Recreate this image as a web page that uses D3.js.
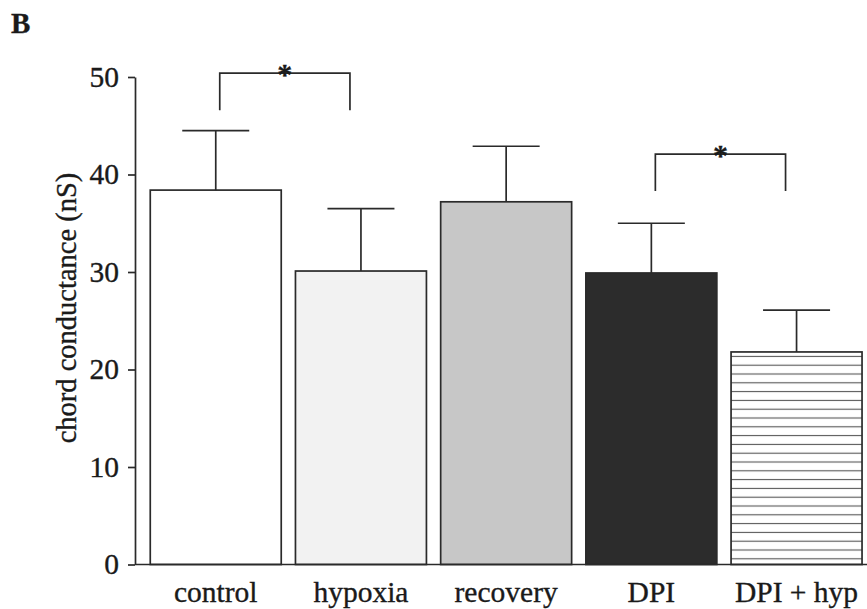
<!DOCTYPE html>
<html>
<head>
<meta charset="utf-8">
<script src="https://cdn.jsdelivr.net/npm/d3@7/dist/d3.min.js"></script>
<style>
  html, body { margin: 0; padding: 0; background: #fff; }
  svg { display: block; }
  text { font-family: "Liberation Serif", "Times New Roman", serif; fill: #1a1a1a; stroke: #1a1a1a; stroke-width: 0.35px; }
</style>
</head>
<body>
<svg id="chart" width="867" height="609"></svg>
<script>
// Chord conductance per condition (mean and SEM, nS)
const categories = ["control", "hypoxia", "recovery", "DPI", "DPI + hyp"];
const means = [38.4, 30.1, 37.2, 29.9, 21.8];
const sems = [6.1, 6.4, 5.7, 5.1, 4.3];
const fills = ["#ffffff", "#f2f2f2", "#c7c7c7", "#2c2c2c", "url(#hlines)"];
const yTicks = [0, 10, 20, 30, 40, 50];

// Significance brackets: pair of conditions, bracket height and leg end (nS)
const pairFrom = ["control", "DPI"];
const pairTo = ["hypoxia", "DPI + hyp"];
const pairTop = [50.4, 42.1];
const pairLegEnd = [46.6, 38.3];
const pairMark = ["*", "*"];

const svg = d3.select("#chart");
const ink = "#2a2a2a";
const fontSize = 29.5;

// Horizontal line fill for the last bar
const defs = svg.append("defs");
const pat = defs.append("pattern")
  .attr("id", "hlines")
  .attr("patternUnits", "userSpaceOnUse")
  .attr("width", 12).attr("height", 8.8);
pat.append("rect").attr("width", 12).attr("height", 8.8).attr("fill", "#fff");
pat.append("line")
  .attr("x1", 0).attr("x2", 12).attr("y1", 4.4).attr("y2", 4.4)
  .attr("stroke", "#555").attr("stroke-width", 1.1);

const x = d3.scaleBand()
  .domain(categories)
  .range([143, 869.3])
  .paddingInner(0.098)
  .paddingOuter(0.05);

const y = d3.scaleLinear()
  .domain([0, 50])
  .range([564.5, 77]);

// Bars
svg.append("g")
  .selectAll("rect")
  .data(categories)
  .join("rect")
  .attr("x", d => x(d))
  .attr("width", x.bandwidth())
  .attr("y", (d, i) => y(means[i]))
  .attr("height", (d, i) => y(0) - y(means[i]))
  .attr("fill", (d, i) => fills[i])
  .attr("stroke", ink)
  .attr("stroke-width", 1.7);

// Error bars (upper only)
const err = svg.append("g").attr("stroke", ink).attr("stroke-width", 1.7);
categories.forEach((c, i) => {
  const cx = x(c) + x.bandwidth() / 2;
  err.append("line")
    .attr("x1", cx).attr("x2", cx)
    .attr("y1", y(means[i])).attr("y2", y(means[i] + sems[i]));
  err.append("line")
    .attr("x1", cx - 33.5).attr("x2", cx + 33.5)
    .attr("y1", y(means[i] + sems[i])).attr("y2", y(means[i] + sems[i]));
});

// Baseline across the bars
svg.append("line")
  .attr("x1", 135).attr("x2", 867)
  .attr("y1", y(0)).attr("y2", y(0))
  .attr("stroke", ink).attr("stroke-width", 1.7);

// Y axis
const yAxis = svg.append("g")
  .attr("transform", "translate(135,0)")
  .call(d3.axisLeft(y).tickValues(yTicks).tickSize(7).tickPadding(9).tickSizeOuter(0));
yAxis.select(".domain").attr("stroke", ink).attr("stroke-width", 1.7);
yAxis.selectAll(".tick line").attr("stroke", ink).attr("stroke-width", 1.7);
yAxis.selectAll(".tick text")
  .attr("font-family", "Liberation Serif, serif")
  .attr("font-size", fontSize)
  .attr("fill", "#1a1a1a");

// Category labels
svg.append("g")
  .selectAll("text")
  .data(categories)
  .join("text")
  .attr("x", d => x(d) + x.bandwidth() / 2)
  .attr("y", 602)
  .attr("text-anchor", "middle")
  .attr("font-size", fontSize)
  .text(d => d);

// Y axis title
svg.append("text")
  .attr("transform", "translate(76,308) rotate(-90)")
  .attr("text-anchor", "middle")
  .attr("font-size", 28.5)
  .text("chord conductance (nS)");

// Significance brackets
const br = svg.append("g");
pairFrom.forEach((f, i) => {
  const x1 = x(f) + x.bandwidth() / 2 + 4;
  const x2 = x(pairTo[i]) + x.bandwidth() / 2 - 11;
  const yt = y(pairTop[i]);
  const yb = y(pairLegEnd[i]);
  br.append("path")
    .attr("d", `M${x1},${yb}V${yt}H${x2}V${yb}`)
    .attr("fill", "none")
    .attr("stroke", ink)
    .attr("stroke-width", 1.7);
  br.append("text")
    .attr("x", (x1 + x2) / 2)
    .attr("y", yt + 11)
    .attr("text-anchor", "middle")
    .attr("font-size", 30)
    .attr("font-weight", "bold")
    .text(pairMark[i]);
});

// Panel letter
svg.append("text")
  .attr("x", 11)
  .attr("y", 33)
  .attr("font-size", 29)
  .attr("font-weight", "bold")
  .attr("fill", "#111")
  .text("B");
</script>
</body>
</html>
